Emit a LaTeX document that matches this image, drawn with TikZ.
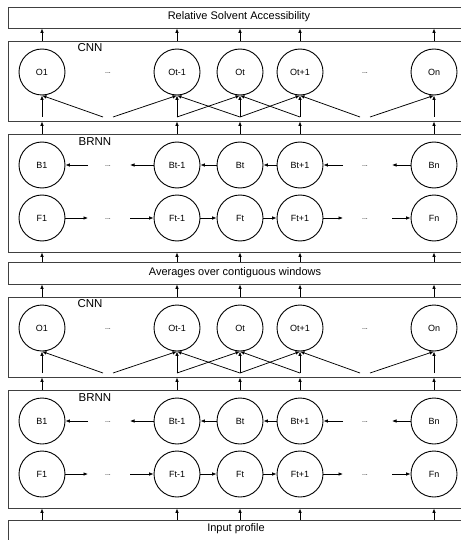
\documentclass[tikz,border=0pt]{standalone}
\usepackage{fontspec}
\setmainfont{Liberation Sans}
\usetikzlibrary{arrows.meta}
\tikzset{
  layerbox/.style={draw=black!75, line width=0.9pt, rectangle, inner sep=0pt, minimum width=458pt},
  neuron/.style={draw=black, line width=0.9pt, circle, minimum size=46pt, inner sep=0pt, font=\fontsize{9}{10}\selectfont},
  dotsl/.style={font=\fontsize{7}{8}\selectfont, inner sep=0pt},
  layerlbl/.style={font=\fontsize{11.5}{13}\selectfont, inner sep=0pt},
  boxtext/.style={font=\fontsize{11}{13}\selectfont, inner sep=0pt},
  arr/.style={line width=0.75pt, -{Latex[length=4.5pt,width=3.6pt]}},
}
\newcommand\netstack[2]{%
  % CNN layer
  \node[layerbox, minimum height=80pt] (#1cnn) at (237,{81+#2}) {};
  \node[layerlbl] (#1cnnl) at (90,{48+#2}) {CNN};
  \node[neuron] (#1o1) at (42,{72+#2}) {O1};
  \node[neuron] (#1o2) at (177,{72+#2}) {Ot-1};
  \node[neuron] (#1o3) at (240,{72+#2}) {Ot};
  \node[neuron] (#1o4) at (300,{72+#2}) {Ot+1};
  \node[neuron] (#1o5) at (434,{72+#2}) {On};
  \node[dotsl] (#1od1) at (108,{73+#2}) {...};
  \node[dotsl] (#1od2) at (365,{73+#2}) {...};
  \coordinate (#1p1) at (42,{117+#2});
  \coordinate (#1p2) at (177,{117+#2});
  \coordinate (#1p3) at (240,{117+#2});
  \coordinate (#1p4) at (300,{117+#2});
  \coordinate (#1p5) at (434,{117+#2});
  \coordinate (#1pl) at (103,{117+#2});
  \coordinate (#1pr) at (113,{117+#2});
  \coordinate (#1pm) at (360,{117+#2});
  \coordinate (#1pn) at (370,{117+#2});
  \draw[arr] (#1p1) -- (#1o1.south);
  \draw[arr] (#1pl) -- (#1o1.south);
  \draw[arr] (#1pr) -- (#1o2.south);
  \draw[arr] (#1p2) -- (#1o2.south);
  \draw[arr] (#1p3) -- (#1o2.south);
  \draw[arr] (#1p2) -- (#1o3.south);
  \draw[arr] (#1p3) -- (#1o3.south);
  \draw[arr] (#1p4) -- (#1o3.south);
  \draw[arr] (#1p3) -- (#1o4.south);
  \draw[arr] (#1p4) -- (#1o4.south);
  \draw[arr] (#1pm) -- (#1o4.south);
  \draw[arr] (#1pn) -- (#1o5.south);
  \draw[arr] (#1p5) -- (#1o5.south);
  % BRNN layer
  \node[layerbox, minimum height=118pt] (#1brnn) at (237,{193+#2}) {};
  \node[layerlbl] (#1brnnl) at (95,{142+#2}) {BRNN};
  \node[neuron] (#1B1) at (42,{165+#2}) {B1};
  \node[neuron] (#1B2) at (177,{165+#2}) {Bt-1};
  \node[neuron] (#1B3) at (240,{165+#2}) {Bt};
  \node[neuron] (#1B4) at (300,{165+#2}) {Bt+1};
  \node[neuron] (#1B5) at (434,{165+#2}) {Bn};
  \node[dotsl] (#1bd1) at (108,{166+#2}) {...};
  \node[dotsl] (#1bd2) at (365,{166+#2}) {...};
  \node[neuron] (#1F1) at (42,{218+#2}) {F1};
  \node[neuron] (#1F2) at (177,{218+#2}) {Ft-1};
  \node[neuron] (#1F3) at (240,{218+#2}) {Ft};
  \node[neuron] (#1F4) at (300,{218+#2}) {Ft+1};
  \node[neuron] (#1F5) at (434,{218+#2}) {Fn};
  \node[dotsl] (#1fd1) at (108,{219+#2}) {...};
  \node[dotsl] (#1fd2) at (365,{219+#2}) {...};
  \coordinate (#1bx1) at (88,{165+#2});
  \coordinate (#1bx2) at (130,{165+#2});
  \coordinate (#1bx3) at (343,{165+#2});
  \coordinate (#1bx4) at (392,{165+#2});
  \coordinate (#1fx1) at (88,{218+#2});
  \coordinate (#1fx2) at (130,{218+#2});
  \coordinate (#1fx3) at (343,{218+#2});
  \coordinate (#1fx4) at (392,{218+#2});
  \draw[arr] (#1bx1) -- (#1B1.east);
  \draw[arr] (#1B2.west) -- (#1bx2);
  \draw[arr] (#1B3.west) -- (#1B2.east);
  \draw[arr] (#1B4.west) -- (#1B3.east);
  \draw[arr] (#1bx3) -- (#1B4.east);
  \draw[arr] (#1B5.west) -- (#1bx4);
  \draw[arr] (#1F1.east) -- (#1fx1);
  \draw[arr] (#1fx2) -- (#1F2.west);
  \draw[arr] (#1F2.east) -- (#1F3.west);
  \draw[arr] (#1F3.east) -- (#1F4.west);
  \draw[arr] (#1F4.east) -- (#1fx3);
  \draw[arr] (#1fx4) -- (#1F5.west);
  % BRNN -> CNN
  \foreach \i in {1,...,5} {\draw[arr] (#1brnn.north -| #1o\i) -- (#1cnn.south -| #1o\i);}
}
\begin{document}
\begin{tikzpicture}[x=1pt,y=-1pt]
  \useasboundingbox (0,0) rectangle (460,540);
  \node[layerbox, minimum height=21pt] (top) at (237,17.5) {};
  \node[boxtext] (toptext) at (239,16.5) {Relative Solvent Accessibility};
  \netstack{A}{0}
  \node[layerbox, minimum height=22pt] (avg) at (237,273) {};
  \node[boxtext] (avgtext) at (235,272.5) {Averages over contiguous windows};
  \netstack{C}{256}
  \node[layerbox, minimum height=40pt] (inp) at (237,540) {};
  \node[boxtext] (inptext) at (236,529) {Input profile};
  \foreach \i in {1,...,5} {
    \draw[arr] (Acnn.north -| Ao\i) -- (top.south -| Ao\i);
    \draw[arr] (avg.north -| Ao\i) -- (Abrnn.south -| Ao\i);
    \draw[arr] (Ccnn.north -| Co\i) -- (avg.south -| Co\i);
    \draw[arr] (inp.north -| Co\i) -- (Cbrnn.south -| Co\i);
  }
\end{tikzpicture}
\end{document}
